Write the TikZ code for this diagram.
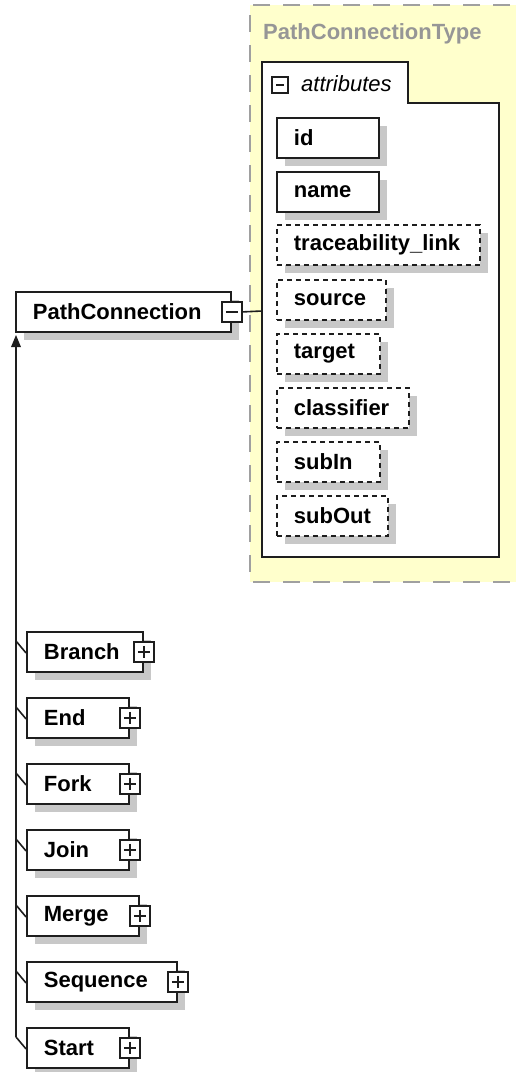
\documentclass[tikz,border=0pt]{standalone}
\usepackage{fontspec}
\setmainfont{Liberation Sans}
\definecolor{panel}{RGB}{255,255,204}
\definecolor{panelborder}{RGB}{160,160,160}
\definecolor{shadowgray}{RGB}{200,200,200}
\definecolor{titlegray}{RGB}{150,150,150}
\definecolor{ink}{RGB}{30,30,30}
\tikzset{
  x=1pt, y=-1pt,
  every node/.style={font=\fontsize{22}{26}\selectfont\bfseries},
  shadowed/.style={preaction={draw=none, fill=shadowgray, transform canvas={xshift=8pt, yshift=-8pt}}},
  elbox/.style={shadowed, draw=ink, line width=1.8pt, fill=white, anchor=north west,
     minimum height=40pt, inner xsep=0pt, inner ysep=0pt, align=left},
  bw/.style={minimum width=#1pt, text width=#1pt, execute at begin node={\hspace*{17pt}}},
  optbox/.style={elbox, dash pattern=on 5pt off 4pt},
  iconbox/.style={draw=ink, line width=1.6pt, fill=white, minimum width=20pt, minimum height=20pt, inner sep=0pt},
  minusicon/.style={iconbox, path picture={\draw[ink, line width=1.6pt]
     ([xshift=4pt]path picture bounding box.west) -- ([xshift=-4pt]path picture bounding box.east);}},
  plusicon/.style={iconbox, path picture={\draw[ink, line width=1.6pt]
     ([xshift=4pt]path picture bounding box.west) -- ([xshift=-4pt]path picture bounding box.east)
     ([yshift=-4pt]path picture bounding box.north) -- ([yshift=4pt]path picture bounding box.south);}},
  conn/.style={draw=ink, line width=1.6pt},
}
\begin{document}
\begin{tikzpicture}
\useasboundingbox (0,0) rectangle (516,1072);
% yellow complex type panel
\begin{scope}
\clip (0,0) rectangle (516,1072);
\fill[panel] (250,5) rectangle (540,582);
\draw[panelborder, line width=2pt, dash pattern=on 17pt off 13pt] (540,5) -- (250,5) -- (250,582) -- (540,582);
\end{scope}
\node[anchor=west, inner sep=0pt, text=titlegray] (title) at (263,34) {PathConnectionType};
% attributes group
\draw[ink, line width=1.8pt, fill=white] (262,62) -- (408,62) -- (408,103) -- (499,103) -- (499,557) -- (262,557) -- cycle;
\node[minusicon, minimum width=16pt, minimum height=16pt] (attricon) at (280,85) {};
\node[anchor=west, inner sep=0pt, font=\fontsize{22}{26}\selectfont\itshape] (attrlabel) at (301,84) {attributes};
\coordinate (attrleft) at (262,311);
% attribute boxes
\node[elbox, bw=102] (id) at (276,117) {id};
\node[elbox, bw=102] (name) at (276,171) {name};
\node[optbox, bw=203] (trace) at (276,224) {traceability\_link};
\node[optbox, bw=109] (source) at (276,279) {source};
\node[optbox, bw=103] (target) at (276,333) {target};
\node[optbox, bw=132] (classifier) at (276,387) {classifier};
\node[optbox, bw=103] (subIn) at (276,441) {subIn};
\node[optbox, bw=111] (subOut) at (276,495) {subOut};
% main element
\node[elbox, bw=215] (pc) at (15,291) {PathConnection};
\node[minusicon] (pcicon) at (pc.east) {};
\draw[conn] (pcicon.east) -- (attrleft);
% children
\node[elbox, bw=116] (branch) at (26,631) {Branch};
\node[plusicon] (branchicon) at (branch.east) {};
\node[elbox, bw=102] (end) at (26,697) {End};
\node[plusicon] (endicon) at (end.east) {};
\node[elbox, bw=102] (fork) at (26,763) {Fork};
\node[plusicon] (forkicon) at (fork.east) {};
\node[elbox, bw=102] (join) at (26,829) {Join};
\node[plusicon] (joinicon) at (join.east) {};
\node[elbox, bw=112] (merge) at (26,895) {Merge};
\node[plusicon] (mergeicon) at (merge.east) {};
\node[elbox, bw=150] (sequence) at (26,961) {Sequence};
\node[plusicon] (sequenceicon) at (sequence.east) {};
\node[elbox, bw=102] (start) at (26,1027) {Start};
\node[plusicon] (starticon) at (start.east) {};
% substitution group line
\coordinate (arrowtip) at (16,335);
\coordinate (linebottom) at (16,1037);
\coordinate (arrowbase) at (16,345);
\draw[conn] (linebottom) -- (arrowbase);
\fill[ink] (arrowtip) -- (21,347) -- (11,347) -- cycle;
\foreach \c in {branch,end,fork,join,merge,sequence,start}{
  \path ([yshift=-10pt]\c.north west) coordinate (tmp);
  \draw[conn] (tmp -| arrowtip) -- ([yshift=-1pt]\c.west);
}
\end{tikzpicture}
\end{document}
